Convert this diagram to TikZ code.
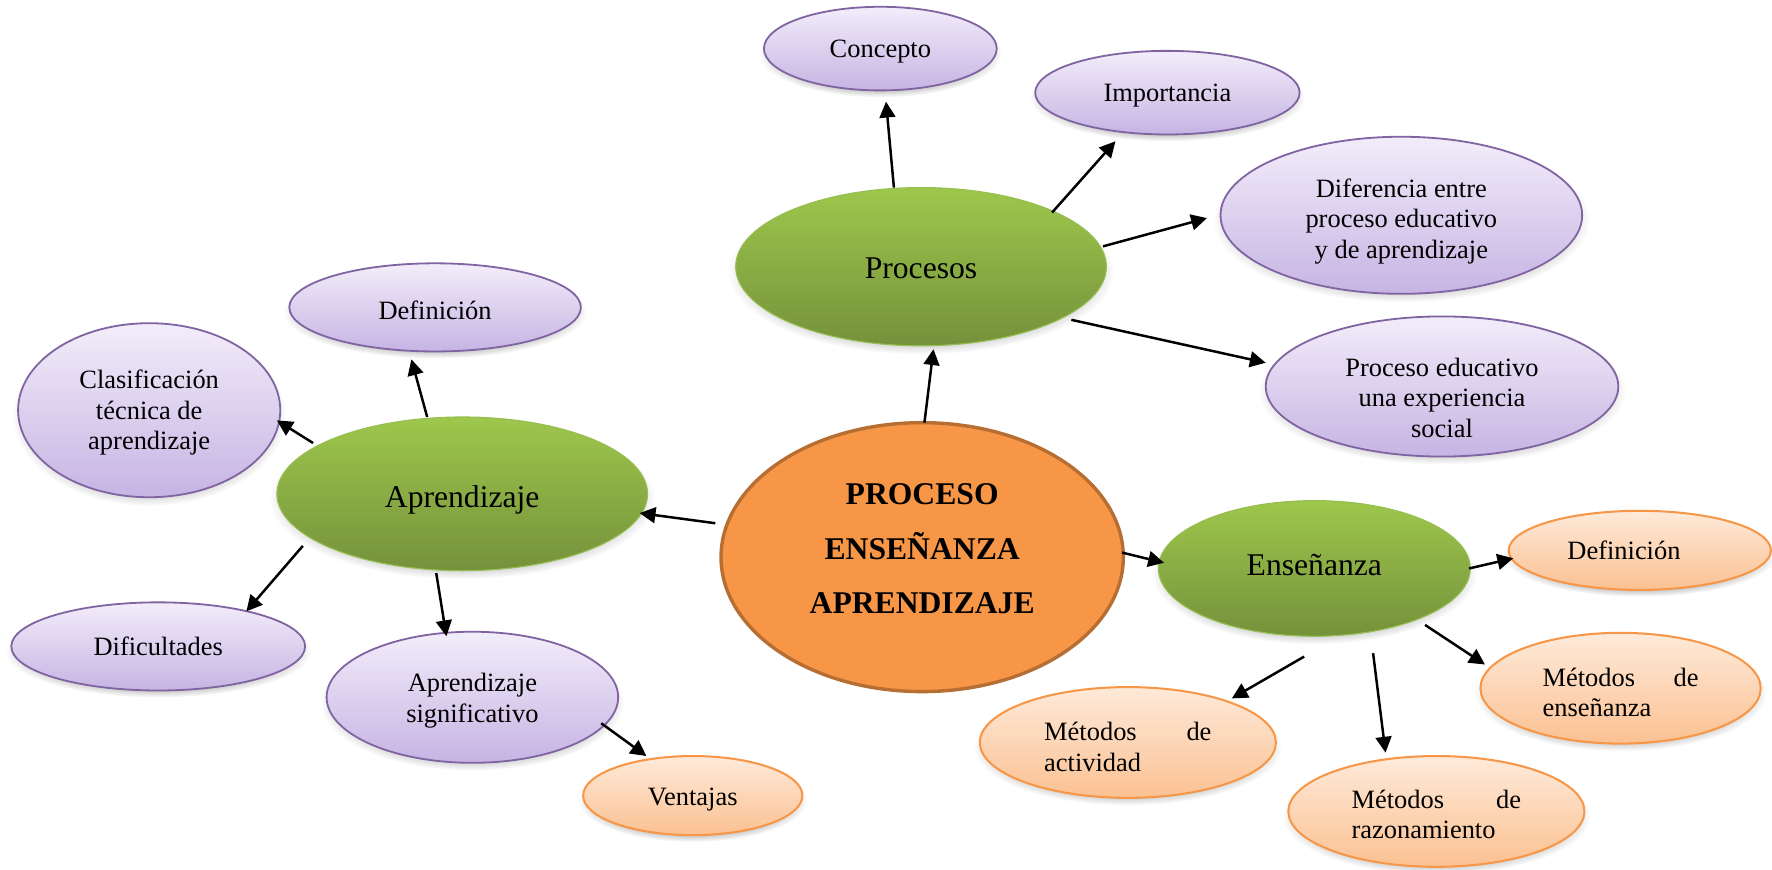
\documentclass[tikz,border=0pt]{standalone}
\usepackage{fontspec}
\setmainfont{Liberation Serif}
\usetikzlibrary{arrows.meta,shapes.geometric,shadows,calc,fadings}

\definecolor{purpT}{RGB}{242,237,250}
\definecolor{purpB}{RGB}{198,180,227}
\definecolor{purpD}{RGB}{128,100,162}
\definecolor{orT}{RGB}{254,234,218}
\definecolor{orB}{RGB}{251,193,146}
\definecolor{orD}{RGB}{247,150,70}
\definecolor{grT}{RGB}{158,199,76}
\definecolor{grB}{RGB}{117,145,59}
\definecolor{grD}{RGB}{150,190,80}
\definecolor{cenF}{RGB}{247,150,70}
\definecolor{cenD}{RGB}{182,110,50}

\newcommand{\smallfnt}{\fontsize{11.7}{13.5}\selectfont}
\newcommand{\greenfnt}{\fontsize{14}{17}\selectfont}
\newcommand{\cenfnt}{\fontsize{14}{24.25}\selectfont\bfseries}
% \lbl[xkern]{raise}{lines}
\newcommand{\lbl}[3][0pt]{\raisebox{#2}[\height][\depth]{\begin{tabular}{@{}c@{}}#3\end{tabular}}\kern#1\relax}

\tikzset{
  softshadow/.style={circular drop shadow={shadow xshift=0pt,shadow yshift=-2.2pt,shadow scale=1.04,opacity=0.4}},
  base/.style={ellipse, inner sep=0pt, align=center, text=black},
  purp/.style={base, softshadow, draw=purpD, line width=0.8pt, top color=purpT, bottom color=purpB, font=\smallfnt},
  oran/.style={base, softshadow, draw=orD, line width=0.9pt, top color=orT, bottom color=orB, font=\smallfnt},
  gree/.style={base, softshadow, draw=grD, line width=0.5pt, top color=grT, bottom color=grB, font=\greenfnt},
  cen/.style={base, draw=cenD, line width=1.5pt, fill=cenF, font=\cenfnt},
  arr/.style={-{Triangle[length=7pt,width=7pt]}, line width=1.1pt, black}
}

\begin{document}
\begin{tikzpicture}[x=0.5pt,y=-0.5pt]
\useasboundingbox (0,0) rectangle (1568,769);

% central and second level
\node[cen, minimum width=178pt, minimum height=119pt] (central) at (816,493)
  {\lbl{4pt}{PROCESO\\ENSEÑANZA\\APRENDIZAJE}};
\node[gree, minimum width=164pt, minimum height=70pt] (procesos) at (815,236)
  {\lbl{-1.7pt}{Procesos}};
\node[gree, minimum width=164pt, minimum height=68pt] (aprendizaje) at (409,437)
  {\lbl{-2.5pt}{Aprendizaje}};
\node[gree, minimum width=138pt, minimum height=60pt] (ensenanza) at (1163,503)
  {\lbl{0.3pt}{Enseñanza}};

% Procesos children
\node[purp, minimum width=103pt, minimum height=37pt] (concepto) at (779,43)
  {\lbl{-1.2pt}{Concepto}};
\node[purp, minimum width=117pt, minimum height=37pt] (importancia) at (1033,82)
  {\lbl{-1.2pt}{Importancia}};
\node[purp, minimum width=160pt, minimum height=69.5pt] (diferencia) at (1240,190.5)
  {\lbl{-2.9pt}{Diferencia entre\\proceso educativo\\y de aprendizaje}};
\node[purp, minimum width=156pt, minimum height=62pt] (procEd) at (1276,342)
  {\lbl{-6.2pt}{Proceso educativo\\una experiencia\\social}};

% Aprendizaje children
\node[purp, minimum width=129pt, minimum height=39pt] (defL) at (385,272)
  {\lbl{-2.7pt}{Definición}};
\node[purp, minimum width=116pt, minimum height=77pt] (clasif) at (132,363)
  {\lbl{-1.2pt}{Clasificación\\técnica de\\aprendizaje}};
\node[purp, minimum width=130pt, minimum height=39pt] (dificultades) at (140,572)
  {\lbl{-1.2pt}{Dificultades}};
\node[purp, minimum width=129pt, minimum height=58pt] (aprSig) at (418,617)
  {\lbl{-1.7pt}{Aprendizaje\\significativo}};
\node[oran, minimum width=97pt, minimum height=35pt] (ventajas) at (613,704)
  {\lbl{-1.7pt}{Ventajas}};

% Enseñanza children
\node[oran, minimum width=116pt, minimum height=35pt] (defR) at (1451,487)
  {\lbl[14pt]{-1.2pt}{Definición}};
\node[oran, minimum width=124pt, minimum height=49pt] (metEns) at (1434,609)
  {\lbl{-3.2pt}{\makebox[69pt]{Métodos\hfill de}\\\makebox[69pt][l]{enseñanza}}};
\node[oran, minimum width=131pt, minimum height=49pt] (metRaz) at (1271,718)
  {\lbl{-2.7pt}{\makebox[75pt]{Métodos\hfill de}\\\makebox[75pt][l]{razonamiento}}};
\node[oran, minimum width=131pt, minimum height=49pt] (metAct) at (998,657)
  {\lbl{-3.2pt}{\makebox[74pt]{Métodos\hfill de}\\\makebox[74pt][l]{actividad}}};

% connectors
\draw[arr] ($(central)+(2,-119)$) -- ($(procesos)+(11,73)$);
\draw[arr] ($(procesos)+(-24,-70)$) -- ($(concepto)+(5,47)$);
\draw[arr] ($(procesos)+(116,-48)$) -- ($(importancia)+(-46,43)$);
\draw[arr] ($(procesos)+(161,-18)$) -- ($(diferencia)+(-172,2.5)$);
\draw[arr] ($(procesos)+(133,47)$) -- ($(procEd)+(-156,-21)$);
\draw[arr] ($(central)+(-183,-30)$) -- ($(aprendizaje)+(157,17)$);
\draw[arr] ($(central)+(177,-4)$) -- ($(ensenanza)+(-133,-5)$);
\draw[arr] ($(aprendizaje)+(-31,-68)$) -- ($(defL)+(-21,46)$);
\draw[arr] ($(aprendizaje)+(-132,-45)$) -- ($(clasif)+(113,9)$);
\draw[arr] ($(aprendizaje)+(-141,46)$) -- ($(dificultades)+(78,-31)$);
\draw[arr] ($(aprendizaje)+(-23,70)$) -- ($(aprSig)+(-23,-54)$);
\draw[arr] ($(aprSig)+(114,23)$) -- ($(ventajas)+(-41,-35)$);
\draw[arr] ($(ensenanza)+(137,0)$) -- ($(defR)+(-112,7)$);
\draw[arr] ($(ensenanza)+(98,50)$) -- ($(metEns)+(-120,-21)$);
\draw[arr] ($(ensenanza)+(52,75)$) -- ($(metRaz)+(-45,-52)$);
\draw[arr] ($(ensenanza)+(-9,78)$) -- ($(metAct)+(92,-39)$);
\end{tikzpicture}
\end{document}
